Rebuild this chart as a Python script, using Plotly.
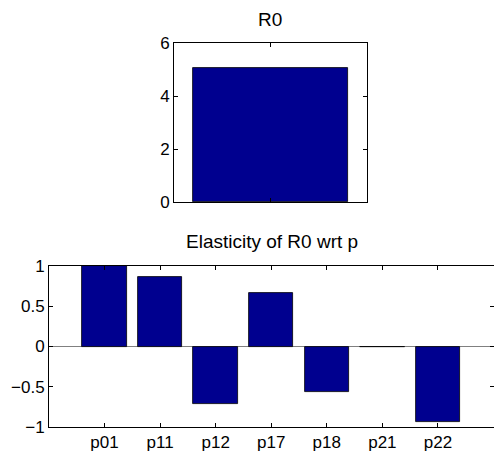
import plotly.graph_objects as go

r0_label = ["R0"]
r0_value = [5.07]

params = ["p01", "p11", "p12", "p17", "p18", "p21", "p22"]
elasticity = [1.0, 0.86, -0.71, 0.66, -0.57, -0.005, -0.94]

bar_color = "#00008F"
tick_font = dict(family="Liberation Sans, Arial, sans-serif", size=17, color="black")
title_font = dict(family="Liberation Sans, Arial, sans-serif", size=19, color="black")

fig = go.Figure()
fig.add_trace(go.Bar(x=[1], y=r0_value, width=0.8,
                     marker=dict(color=bar_color, line=dict(color="black", width=0.8)),
                     xaxis="x", yaxis="y", showlegend=False))
pos = list(range(1, len(params) + 1))
fig.add_trace(go.Bar(x=pos, y=elasticity, width=0.8,
                     marker=dict(color=bar_color, line=dict(color="black", width=0.8)),
                     xaxis="x2", yaxis="y2", showlegend=False))

axis_common = dict(showline=True, linecolor="black", linewidth=1, mirror="ticks", ticks="inside",
                   ticklen=4, tickcolor="black", showgrid=False, tickfont=tick_font,
                   automargin=False)

H = 451.0
W = 494.0
fig.update_layout(
    width=494, height=451, margin=dict(l=0, r=0, t=0, b=0, pad=0),
    paper_bgcolor="white", plot_bgcolor="white", font=tick_font, bargap=0,
    xaxis=dict(domain=[174 / W, 367 / W], anchor="y", range=[0.5, 1.5], tickvals=[1], ticktext=[""],
               zeroline=False, **axis_common),
    yaxis=dict(domain=[1 - 202 / H, 1 - 43 / H], anchor="x", range=[0, 6], tickvals=[0, 2, 4, 6],
               zeroline=False, **axis_common),
    xaxis2=dict(domain=[49 / W, 493.5 / W], anchor="y2", range=[0, 8], tickvals=pos, ticktext=params,
                zeroline=False, **axis_common),
    yaxis2=dict(domain=[1 - 427 / H, 1 - 266 / H], anchor="x2", range=[-1, 1],
                tickvals=[-1, -0.5, 0, 0.5, 1],
                ticktext=["\u22121", "\u22120.5", "0", "0.5", "1"],
                zeroline=True, zerolinecolor="#808080", zerolinewidth=1, **axis_common),
    annotations=[
        dict(text="R0", x=270 / W, y=1 - 20 / H, xref="paper", yref="paper", showarrow=False,
             font=title_font, xanchor="center", yanchor="middle"),
        dict(text="Elasticity of R0 wrt p", x=272 / W, y=1 - 241 / H, xref="paper", yref="paper",
             showarrow=False, font=title_font, xanchor="center", yanchor="middle"),
    ],
)

fig.write_html("out.html")
